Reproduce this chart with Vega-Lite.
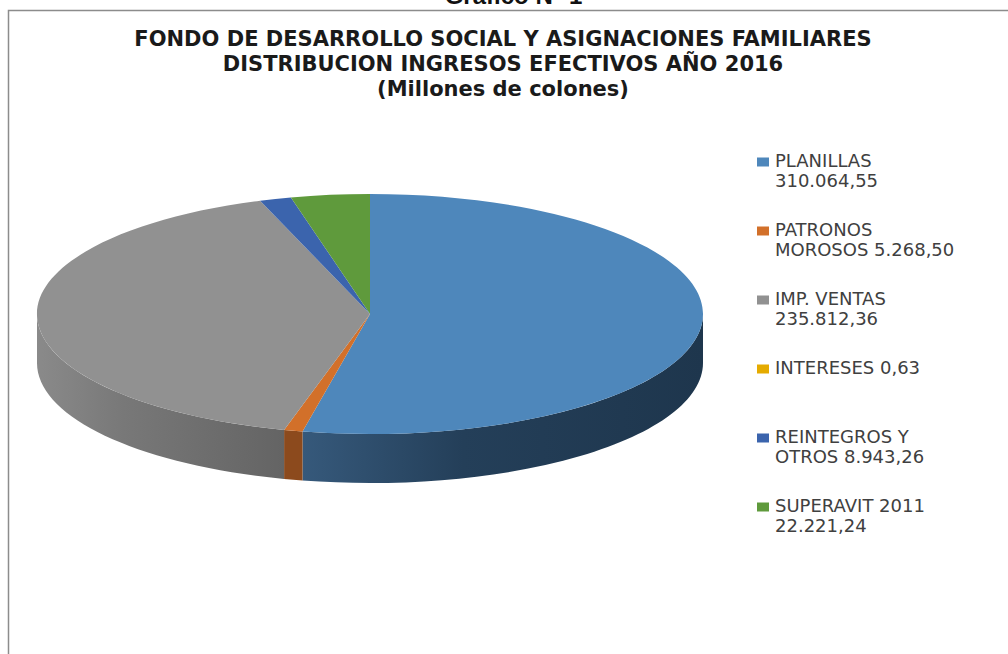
{"$schema":"https://vega.github.io/schema/vega-lite/v6.json","width":1008,"height":654,"padding":0,"autosize":{"type":"none"},"background":"white","config":{"view":{"stroke":null}},
"title":{"text":["FONDO DE DESARROLLO SOCIAL Y ASIGNACIONES FAMILIARES","DISTRIBUCION INGRESOS EFECTIVOS AÑO 2016","(Millones de colones)"],"font":"DejaVu Sans","fontSize":21,"fontWeight":"bold","color":"#1a1a1a","lineHeight":25,"anchor":"middle","frame":"group","offset":-115,"dx":-1},
"data":{"values":[
{"concepto":"PLANILLAS","valor":310064.55,"etiqueta":"PLANILLAS|310.064,55"},
{"concepto":"PATRONOS MOROSOS","valor":5268.50,"etiqueta":"PATRONOS|MOROSOS 5.268,50"},
{"concepto":"IMP. VENTAS","valor":235812.36,"etiqueta":"IMP. VENTAS|235.812,36"},
{"concepto":"INTERESES","valor":0.63,"etiqueta":"INTERESES 0,63| "},
{"concepto":"REINTEGROS Y OTROS","valor":8943.26,"etiqueta":"REINTEGROS Y|OTROS 8.943,26"},
{"concepto":"SUPERAVIT 2011","valor":22221.24,"etiqueta":"SUPERAVIT 2011|22.221,24"}]},
"layer":[
{"data":{"values":[{"marco":"borde"}]},"mark":{"type":"point","shape":"M-495.5,327V-316.5H504","filled":false,"size":4,"opacity":1,"stroke":"#8c8c8c","strokeWidth":1.5}},
{"data":{"values":[{"rotulo":"Gráfico N° 1"}]},"mark":{"type":"text","font":"Liberation Sans","fontWeight":"bold","fontSize":24,"color":"#111111","dx":9.5,"dy":-323,"baseline":"alphabetic"},"encoding":{"text":{"field":"rotulo"}}},
{"transform":[{"filter":"datum.concepto==='PLANILLAS'"}],"mark":{"type":"point","filled":true,"size":4,"opacity":1,"strokeWidth":0,"shape":"M199,-13A333,120 0 0 1 -201.47,104.51L-201.47,153.51A333,120 0 0 0 199,36Z","color":{"gradient":"linear","x1":0,"x2":1,"y1":0,"y2":0,"stops":[{"offset":0,"color":"#36597b"},{"offset":0.4,"color":"#243f59"},{"offset":1,"color":"#1e364d"}]}}},
{"transform":[{"filter":"datum.concepto==='PATRONOS MOROSOS'"}],"mark":{"type":"point","filled":true,"size":4,"opacity":1,"strokeWidth":0,"color":"#8c4a1d","shape":"M-201.47,104.51A333,120 0 0 1 -219.91,102.94L-219.91,151.94A333,120 0 0 0 -201.47,153.51Z"}},
{"transform":[{"filter":"datum.concepto==='IMP. VENTAS'"}],"mark":{"type":"point","filled":true,"size":4,"opacity":1,"strokeWidth":0,"shape":"M-219.91,102.94A333,120 0 0 1 -467,-13L-467,36A333,120 0 0 0 -219.91,151.94Z","color":{"gradient":"linear","x1":0,"x2":1,"y1":0,"y2":0,"stops":[{"offset":0,"color":"#8a8a8a"},{"offset":0.35,"color":"#787878"},{"offset":1,"color":"#646464"}]}}},
{"mark":{"type":"point","filled":true,"size":4,"opacity":1,"strokeWidth":0},"encoding":{
"shape":{"field":"concepto","type":"nominal","legend":null,"scale":{"domain":["PLANILLAS","PATRONOS MOROSOS","IMP. VENTAS","INTERESES","REINTEGROS Y OTROS","SUPERAVIT 2011"],"range":[
"M-134,-13L-134,-133A333,120 0 1 1 -201.47,104.51Z",
"M-134,-13L-201.47,104.51A333,120 0 0 1 -219.91,102.94Z",
"M-134,-13L-219.91,102.94A333,120 0 0 1 -243.9,-126.28Z",
"M-134,-13L-243.9,-126.28Z",
"M-134,-13L-243.9,-126.28A333,120 0 0 1 -213.1,-129.57Z",
"M-134,-13L-213.1,-129.57A333,120 0 0 1 -134,-133Z"]}},
"color":{"field":"etiqueta","type":"nominal","sort":null,"scale":{"domain":["PLANILLAS|310.064,55","PATRONOS|MOROSOS 5.268,50","IMP. VENTAS|235.812,36","INTERESES 0,63| ","REINTEGROS Y|OTROS 8.943,26","SUPERAVIT 2011|22.221,24"],"range":["#4e87bb","#d2702a","#919191","#e5ab00","#3b64ad","#5f9a3c"]},
"legend":{"title":null,"orient":"none","legendX":754,"legendY":153,"padding":0,"symbolType":"M-1,-0.75H1V0.75H-1Z","symbolSize":144,"symbolStrokeWidth":0,"labelOffset":3,"labelFont":"DejaVu Sans","labelFontSize":18,"labelColor":"#404040","labelLimit":260,"rowPadding":31,"labelExpr":"split(datum.label,'|')"}}}}
]}
